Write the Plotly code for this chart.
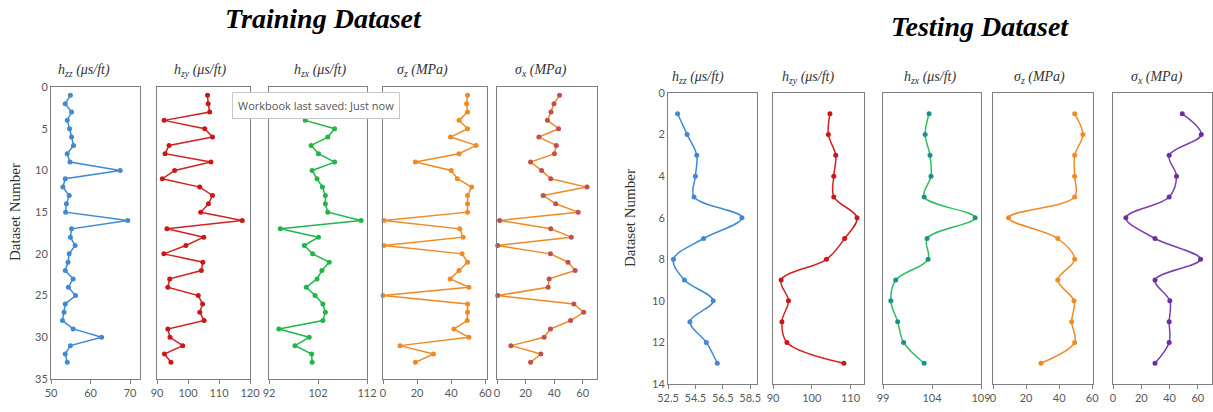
import plotly.graph_objects as go

W, H = 1213, 412

# ---------------- data ----------------
train_idx = list(range(1, 34))
train_hzz = [54.9, 53.6, 55.2, 54.1, 54.7, 55.2, 55.7, 54.1, 54.8, 67.5, 53.6, 53.0, 54.6, 53.9, 53.7, 69.4, 55.2,
             54.9, 56.1, 54.6, 54.3, 53.6, 55.6, 54.4, 56.2, 53.6, 53.3, 52.9, 55.6, 62.8, 54.9, 53.6, 54.1]
train_hzy = [106.3, 106.5, 107.0, 92.3, 105.4, 107.9, 93.9, 92.6, 107.4, 95.7, 91.7, 103.8, 107.9, 106.6, 104.1,
             117.5, 93.2, 105.1, 99.3, 92.2, 104.8, 104.3, 94.1, 93.5, 103.3, 104.7, 103.8, 105.2, 93.5, 94.2,
             98.3, 92.4, 94.5]
train_hzx = [102.9, 102.0, 100.5, 99.4, 105.4, 104.0, 100.6, 102.1, 105.4, 100.8, 101.8, 102.9, 103.5, 103.5,
             104.0, 110.8, 94.3, 102.1, 99.2, 100.9, 104.3, 102.8, 101.8, 99.6, 101.4, 103.0, 103.5, 103.0, 94.0,
             100.2, 97.3, 100.7, 100.8]
train_sz = [49.6, 49.0, 49.6, 44.6, 49.6, 39.6, 54.6, 44.6, 19.0, 40.0, 43.6, 52.0, 49.6, 49.6, 49.6, 0.6, 45.0,
            47.0, 0.6, 46.4, 49.6, 44.6, 39.4, 50.4, 0.0, 49.6, 49.6, 49.4, 41.6, 50.4, 10.0, 29.6, 19.0]
train_sx = [43.8, 39.9, 37.8, 35.3, 43.1, 29.3, 41.5, 40.2, 23.5, 31.2, 37.6, 63.0, 32.3, 41.1, 56.8, 1.8, 37.6,
            52.0, 0.5, 37.4, 49.7, 54.7, 36.5, 35.8, 0.5, 53.8, 60.7, 51.5, 37.4, 33.0, 9.7, 30.7, 23.5]

test_idx = list(range(1, 14))
test_hzz = [53.2, 53.9, 54.6, 54.5, 54.4, 57.9, 55.1, 52.9, 53.7, 55.8, 54.1, 55.3, 56.1]
test_hzy = [104.7, 104.3, 106.2, 105.7, 105.7, 111.7, 108.5, 103.8, 92.1, 94.0, 92.3, 93.6, 108.3]
test_hzx = [103.7, 103.3, 103.8, 103.9, 103.2, 108.4, 103.5, 103.6, 100.3, 99.8, 100.5, 101.1, 103.2]
test_sz = [49.4, 54.4, 49.4, 49.4, 49.4, 9.4, 39.2, 49.4, 39.2, 49.0, 47.6, 49.4, 29.0]
test_sx = [49.0, 62.4, 39.7, 44.9, 39.7, 9.1, 29.7, 61.9, 29.7, 40.2, 39.7, 39.7, 29.7]

panel_titles = ["<i>h<sub>zz</sub> (μs/ft)</i>", "<i>h<sub>zy</sub> (μs/ft)</i>", "<i>h<sub>zx</sub> (μs/ft)</i>",
                "<i>σ<sub>z</sub> (MPa)</i>", "<i>σ<sub>x</sub> (MPa)</i>"]

train_ticks = [[50, 60, 70], [90, 100, 110, 120], [92, 102, 112], [0, 20, 40, 60], [0, 20, 40, 60]]
test_ticks = [[52.5, 54.5, 56.5, 58.5], [90, 100, 110], [99, 104, 109], [0, 20, 40, 60], [0, 20, 40, 60]]
train_y_ticks = [0, 5, 10, 15, 20, 25, 30, 35]
test_y_ticks = [0, 2, 4, 6, 8, 10, 12, 14]

# ---------------- styling / layout ----------------
train_ranges = [[50, 72.5], [90, 120], [92, 112], [0, 61], [0, 70]]
test_ranges = [[52.5, 59], [90, 113.5], [99, 109], [0, 60.5], [0, 70]]
train_px = [(51, 140), (157, 250), (269, 367), (383, 487), (497, 597)]
test_px = [(668, 757), (773, 864), (883, 981), (993, 1093), (1113, 1212)]
train_title_x = [84, 200, 320, 422, 541]
test_title_x = [698, 808, 930, 1039, 1157]
train_top, train_bot = 87, 379
test_top, test_bot = 93, 384

train_line = ["#3f8ad2", "#d42020", "#21b54a", "#f08a24", "#f08a24"]
train_mark = ["#3f8ad2", "#c81818", "#21b54a", "#f08a24", "#c0504d"]
test_line = ["#3f8ad2", "#d42020", "#2fbf5f", "#f08a24", "#7b3fb0"]
test_mark = ["#3f8ad2", "#c81818", "#1f8f8a", "#f08a24", "#6a2fa0"]

fig = go.Figure()
layout = dict(width=W, height=H, margin=dict(l=0, r=0, t=0, b=0, autoexpand=False),
              paper_bgcolor="white", plot_bgcolor="white", showlegend=False)

tickfont = dict(family="Lato, Liberation Sans, sans-serif", size=11, color="#595959")
annotations = []

def add_panel(k, xs, ys, xr, yr, xpx, top, bot, tickv, ytv, show_y, lc, mc, shape):
    ax = "" if k == 1 else str(k)
    fig.add_trace(go.Scatter(x=xs, y=ys, mode="lines+markers", xaxis="x" + ax, yaxis="y" + ax,
                             line=dict(color=lc, width=1.5, shape=shape, smoothing=1.0),
                             marker=dict(color=mc, size=5), cliponaxis=False))
    layout["xaxis" + ax] = dict(domain=[xpx[0] / W, xpx[1] / W], anchor="y" + ax, range=xr,
                                tickvals=tickv, ticks="outside", ticklen=4, tickcolor="#7f7f7f",
                                showline=True, linecolor="#7f7f7f", linewidth=1, mirror=True,
                                showgrid=False, zeroline=False, tickfont=tickfont, automargin=False)
    layout["yaxis" + ax] = dict(domain=[1 - bot / H, 1 - top / H], anchor="x" + ax, range=yr,
                                tickvals=ytv, showticklabels=show_y, ticks="",
                                showline=True, linecolor="#7f7f7f", linewidth=1, mirror=True,
                                showgrid=False, zeroline=False, tickfont=tickfont, automargin=False)

train_series = [train_hzz, train_hzy, train_hzx, train_sz, train_sx]
test_series = [test_hzz, test_hzy, test_hzx, test_sz, test_sx]

for i in range(5):
    add_panel(i + 1, train_series[i], train_idx, train_ranges[i], [35, 0], train_px[i], train_top, train_bot,
              train_ticks[i], train_y_ticks, i == 0, train_line[i], train_mark[i], "linear")
    annotations.append(dict(text=panel_titles[i], xref="paper", yref="paper", x=train_title_x[i] / W,
                            y=1 - 70 / H, showarrow=False, xanchor="center", yanchor="middle",
                            font=dict(family="Liberation Serif, serif", size=14, color="#333333")))
for i in range(5):
    add_panel(i + 6, test_series[i], test_idx, test_ranges[i], [14, 0], test_px[i], test_top, test_bot,
              test_ticks[i], test_y_ticks, i == 0, test_line[i], test_mark[i], "spline")
    annotations.append(dict(text=panel_titles[i], xref="paper", yref="paper", x=test_title_x[i] / W,
                            y=1 - 77 / H, showarrow=False, xanchor="center", yanchor="middle",
                            font=dict(family="Liberation Serif, serif", size=14, color="#333333")))

# main titles
annotations.append(dict(text="<b><i>Training Dataset</i></b>", xref="paper", yref="paper", x=323 / W, y=1 - 19 / H,
                        showarrow=False, xanchor="center", yanchor="middle",
                        font=dict(family="Liberation Serif, serif", size=28, color="black")))
annotations.append(dict(text="<b><i>Testing Dataset</i></b>", xref="paper", yref="paper", x=980 / W, y=1 - 27 / H,
                        showarrow=False, xanchor="center", yanchor="middle",
                        font=dict(family="Liberation Serif, serif", size=28, color="black")))
# y-axis titles
for xp, yp in [(15, 212), (630, 218)]:
    annotations.append(dict(text="Dataset Number", xref="paper", yref="paper", x=xp / W, y=1 - yp / H,
                            showarrow=False, textangle=-90, xanchor="center", yanchor="middle",
                            font=dict(family="Liberation Serif, serif", size=15, color="#333333")))
# the tooltip visible in the reference screenshot
annotations.append(dict(text="Workbook last saved: Just now", xref="paper", yref="paper", x=316 / W,
                        y=1 - 105 / H, showarrow=False, xanchor="center", yanchor="middle",
                        bgcolor="white", bordercolor="#c8c8c8", borderwidth=1, borderpad=5,
                        font=dict(family="Open Sans, sans-serif", size=11, color="#555555")))

layout["annotations"] = annotations
fig.update_layout(**layout)
fig.write_html("out.html", config={"displayModeBar": False},
               post_script="document.body.style.margin='0';document.body.style.padding='0';")
